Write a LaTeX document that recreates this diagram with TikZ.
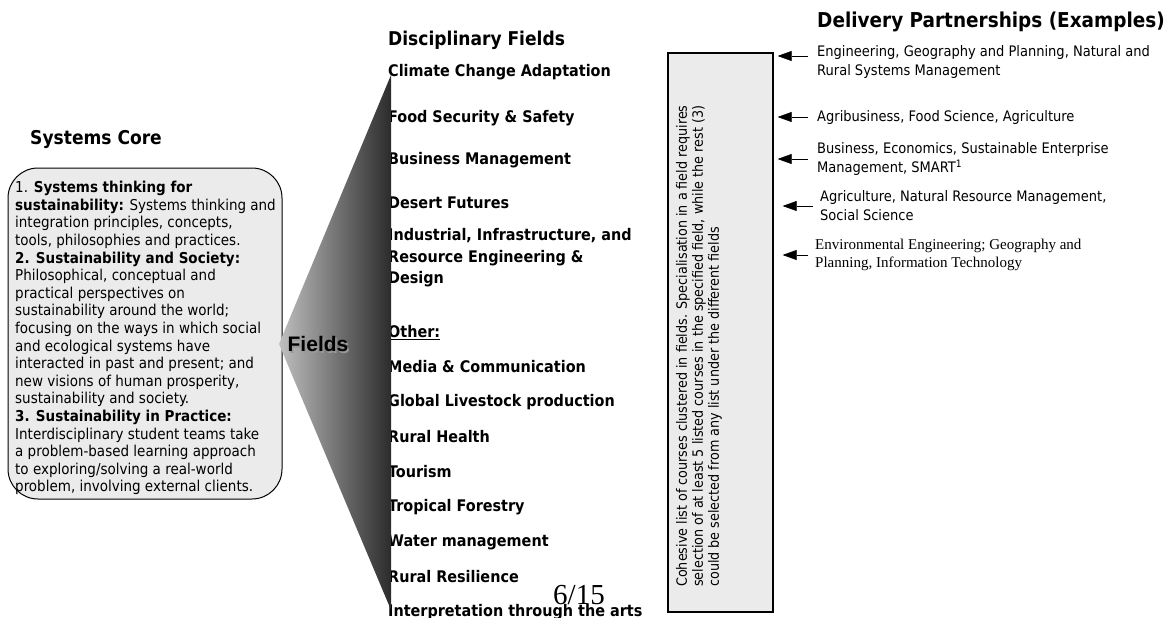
\documentclass[tikz,border=0pt]{standalone}
\usepackage{fontspec}
\setmainfont{DejaVu Sans Condensed}
\newfontfamily\arialfont{Liberation Sans}
\newfontfamily\timesfont{Liberation Serif}
\usetikzlibrary{arrows.meta}

\tikzset{
    heading/.style={font=\bfseries\fontsize{19}{22}\selectfont, anchor=west, inner sep=0pt},
    fielditem/.style={font=\bfseries\fontsize{16}{21.5}\selectfont, anchor=west, inner sep=0pt, align=left},
    partner/.style={font=\fontsize{14.5}{19}\selectfont, anchor=west, inner sep=0pt, align=left},
    pointer/.style={-{Triangle[length=14pt,width=10pt]}, line width=0.5pt},
    panel/.style={draw, fill=black!8, inner sep=0pt},
}

\begin{document}
\begin{tikzpicture}[x=1pt, y=-1pt]
    \useasboundingbox (0,0) rectangle (1170,618);

    % Systems core
    \node[heading] (coretitle) at (30,139) {Systems Core};
    \node[panel, line width=1pt, rounded corners=30pt, minimum width=274pt, minimum height=331pt] (core) at (145,333.5) {};
    \node[anchor=north west, align=left, inner sep=0pt, font=\fontsize{15}{17.6}\selectfont] (corebody) at (15,181) {%
        1. {\bfseries Systems thinking for}\\
        {\bfseries sustainability:} Systems thinking and\\
        integration principles, concepts,\\
        tools, philosophies and practices.\\
        {\bfseries 2. Sustainability and Society:}\\
        Philosophical, conceptual and\\
        practical perspectives on\\
        sustainability around the world;\\
        focusing on the ways in which social\\
        and ecological systems have\\
        interacted in past and present; and\\
        new visions of human prosperity,\\
        sustainability and society.\\
        {\bfseries 3. Sustainability in Practice:}\\
        Interdisciplinary student teams take\\
        a problem-based learning approach\\
        to exploring/solving a real-world\\
        problem, involving external clients.};

    % Disciplinary fields
    \node[heading] (fieldtitle) at (388,40) {Disciplinary Fields};
    \foreach \fname/\fy [count=\i] in {Climate Change Adaptation/72, Food Security \& Safety/118,
        Business Management/160, Desert Futures/203,
        {Industrial, Infrastructure, and\\Resource Engineering \&\\Design}/258,
        \underline{Other:}/333, Media \& Communication/367, Global Livestock production/402,
        Rural Health/437, Tourism/472, Tropical Forestry/507, Water management/542,
        Rural Resilience/577, Interpretation through the arts/612}
        {
            \node[fielditem] (field\i) at (388,\fy) {\fname};
        }

    % Funnel
    \coordinate (apex) at (279,344);
    \coordinate (ftop) at (391,75);
    \coordinate (fbot) at (391,610);
    \shade[left color=black!25, right color=black!83] (apex) -- (ftop) -- (fbot) -- cycle;
    \node[font=\arialfont\bfseries\fontsize{21}{24}\selectfont, text=black!40] (fieldshadow) at (319.5,345.5) {Fields};
    \node[font=\arialfont\bfseries\fontsize{21}{24}\selectfont] (fieldslabel) at (318,344) {Fields};

    \node[font=\timesfont\fontsize{29}{32}\selectfont, inner sep=0pt] (pagenum) at (579,595) {6/15};

    % Course list
    \node[panel, line width=1.3pt, minimum width=105pt, minimum height=559pt] (cbox) at (720.5,332.5) {};
    \node[rotate=90, anchor=north west, align=left, inner sep=0pt, font=\fontsize{14.2}{16}\selectfont] (cboxtext) at (676,587) {%
        Cohesive list of courses clustered in fields. Specialisation in a field requires\\
        selection of at least 5 listed courses in the specified field, while the rest (3)\\
        could be selected from any list under the different fields};

    % Delivery partnerships
    \node[heading, font=\bfseries\fontsize{20.5}{24}\selectfont] (deltitle) at (817,22) {Delivery Partnerships (Examples)};
    \node[partner] (d1) at (817,61.5) {Engineering, Geography and Planning, Natural and\\Rural Systems Management};
    \node[partner] (d2) at (817,117) {Agribusiness, Food Science, Agriculture};
    \node[partner] (d3) at (817,159) {Business, Economics, Sustainable Enterprise\\Management, SMART\textsuperscript{1}};
    \node[partner] (d4) at (820,206) {Agriculture, Natural Resource Management,\\Social Science};
    \node[partner, font=\timesfont\fontsize{15}{18}\selectfont] (d5) at (815,255) {Environmental Engineering; Geography and\\Planning, Information Technology};

    \coordinate (d1arr) at ([yshift=5.5pt]d1.west);
    \foreach \d/\gap/\tip in {d1arr/9/4, d2.west/9/4, d3.west/9/4, d4.west/7/9, d5.west/7/9}
        {
            \draw[pointer, shorten <=\gap pt, shorten >=\tip pt] (\d) -- (\d -| cbox.east);
        }

\end{tikzpicture}
\end{document}
